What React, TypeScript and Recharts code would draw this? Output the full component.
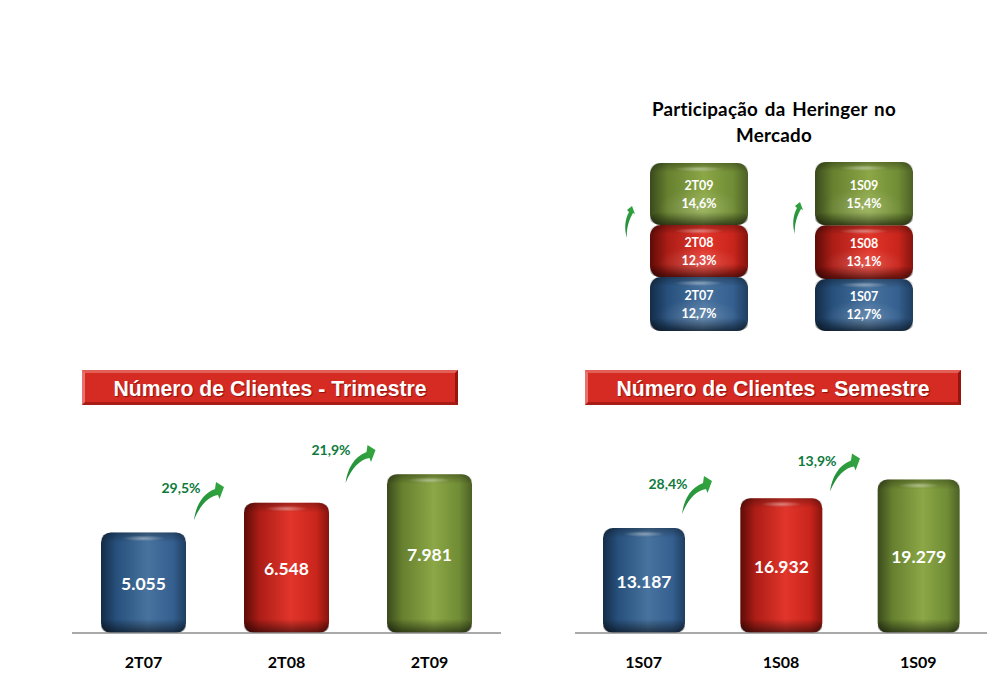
import { BarChart, Bar, XAxis, YAxis, LabelList } from 'recharts';

// Número de clientes
const quarterLabels = ['2T07', '2T08', '2T09'];
const quarterClients = [5055, 6548, 7981];
const quarterGrowth = ['29,5%', '21,9%'];

const semesterLabels = ['1S07', '1S08', '1S09'];
const semesterClients = [13187, 16932, 19279];
const semesterGrowth = ['28,4%', '13,9%'];

// Participação no mercado
const quarterShare = [12.7, 12.3, 14.6];
const semesterShare = [12.7, 13.1, 15.4];

const tones = ['blue', 'red', 'green'];
const calibriLike = 'Lato, "Noto Sans", sans-serif';
const arialLike = '"Liberation Sans", Arial, sans-serif';

const toRows = (labels: string[], values: number[]) =>
  labels.map((name, i) => ({ name, value: values[i] }));

const toStackRow = (values: number[]) => {
  const row: Record<string, number | string> = { name: 'share' };
  values.forEach((v, i) => {
    row['s' + i] = v;
  });
  return row;
};

const thousands = (v: any) => String(v).replace(/\B(?=(\d{3})+$)/g, '.');
const percent = (v: any) => String(v).replace('.', ',') + '%';

function Gradients() {
  const ramps: Record<string, string[]> = {
    blue: ['#142c47', '#27507c', '#48739f', '#345f8f', '#1f3e60'],
    red: ['#5e0b07', '#ab1d16', '#e2352b', '#c9251c', '#86140e'],
    green: ['#3a4a1c', '#66802f', '#8ba746', '#708c35', '#4c6026'],
  };
  return (
    <svg width={0} height={0} style={{ position: 'absolute' }}>
      <defs>
        {tones.map((t) => (
          <linearGradient key={t} id={'body-' + t} x1="0" x2="1" y1="0" y2="0">
            <stop offset="0" stopColor={ramps[t][0]} />
            <stop offset="0.18" stopColor={ramps[t][1]} />
            <stop offset="0.55" stopColor={ramps[t][2]} />
            <stop offset="0.85" stopColor={ramps[t][3]} />
            <stop offset="1" stopColor={ramps[t][4]} />
          </linearGradient>
        ))}
        <linearGradient id="cap-top" x1="0" x2="0" y1="0" y2="1">
          <stop offset="0" stopColor="#000" stopOpacity="0.28" />
          <stop offset="0.7" stopColor="#000" stopOpacity="0" />
        </linearGradient>
        <linearGradient id="cap-bottom" x1="0" x2="0" y1="0" y2="1">
          <stop offset="0" stopColor="#000" stopOpacity="0" />
          <stop offset="1" stopColor="#000" stopOpacity="0.55" />
        </linearGradient>
        <radialGradient id="glow">
          <stop offset="0" stopColor="#fff" stopOpacity="0.4" />
          <stop offset="1" stopColor="#fff" stopOpacity="0" />
        </radialGradient>
        <linearGradient id="arrow-fill" x1="0" x2="1" y1="1" y2="0">
          <stop offset="0" stopColor="#1f8a3a" />
          <stop offset="1" stopColor="#35a83f" />
        </linearGradient>
      </defs>
    </svg>
  );
}

function Cylinder(props: any) {
  const { x, y, width, height, tone, radius, cap, glow } = props;
  return (
    <g>
      <rect x={x} y={y} width={width} height={height} rx={radius} fill={`url(#body-${tone})`} />
      <rect x={x} y={y} width={width} height={cap} rx={radius} fill="url(#cap-top)" />
      <rect x={x} y={y + height - cap} width={width} height={cap} rx={radius} fill="url(#cap-bottom)" />
      <ellipse cx={x + width / 2} cy={y + 6} rx={width * 0.25} ry={3} fill="url(#glow)" />
      {glow && (
        <ellipse cx={x + width / 2} cy={y + height * 0.72} rx={width * 0.42} ry={height * 0.3} fill="url(#glow)" opacity={0.45} />
      )}
    </g>
  );
}

function ClientsChart({ rows, left, width, top, plotLeft, plotRight, max, barSize }: any) {
  return (
    <div style={{ position: 'absolute', left, top }}>
      <BarChart
        width={width}
        height={633 + 47 - top}
        data={rows}
        margin={{ top: 434 - top, right: plotRight, bottom: 0, left: plotLeft }}
        barCategoryGap={0}
      >
        <YAxis hide domain={[0, max]} />
        <XAxis
          dataKey="name"
          height={47}
          interval={0}
          axisLine={{ stroke: '#8c8c8c', strokeWidth: 1.5 }}
          tickLine={false}
          tick={{ fill: '#000', fontSize: 16, fontWeight: 700, fontFamily: calibriLike }}
          dy={16}
        />
        <Bar
          dataKey="value"
          barSize={barSize}
          isAnimationActive={false}
          shape={(p: any) => <Cylinder {...p} tone={tones[p.index]} radius={10} cap={14} />}
        >
          <LabelList
            dataKey="value"
            position="center"
            formatter={thousands}
            fill="#fff"
            dy={1}
            style={{ fontSize: 17.5, fontWeight: 700, fontFamily: calibriLike }}
          />
        </Bar>
      </BarChart>
    </div>
  );
}

function ShareChart({ values, labels, left, top, height }: any) {
  const total = values.reduce((a: number, b: number) => a + b, 0);
  return (
    <div style={{ position: 'absolute', left, top }}>
      <BarChart
        width={130}
        height={height}
        data={[toStackRow(values)]}
        margin={{ top: 0, right: 0, bottom: 0, left: 0 }}
      >
        <XAxis dataKey="name" hide />
        <YAxis hide domain={[0, total]} />
        {values.map((_: number, i: number) => (
          <Bar
            key={i}
            dataKey={'s' + i}
            stackId="share"
            barSize={98}
            isAnimationActive={false}
            shape={(p: any) => <Cylinder {...p} tone={tones[i]} radius={11} cap={13} glow />}
          >
            <LabelList
              dataKey={'s' + i}
              content={(p: any) => (
                <text
                  x={p.x + p.width / 2}
                  y={p.y + p.height / 2}
                  textAnchor="middle"
                  fill="#fff"
                  fontFamily={calibriLike}
                  fontWeight={700}
                  fontSize={12.5}
                >
                  <tspan x={p.x + p.width / 2} dy={-4}>{labels[i]}</tspan>
                  <tspan x={p.x + p.width / 2} dy={18}>{percent(p.value)}</tspan>
                </text>
              )}
            />
          </Bar>
        ))}
      </BarChart>
    </div>
  );
}

function Banner({ text, left }: { text: string; left: number }) {
  return (
    <div
      style={{
        position: 'absolute',
        left,
        top: 370,
        width: 376,
        height: 35,
        boxSizing: 'border-box',
        background: '#d52b23',
        borderStyle: 'solid',
        borderWidth: 3,
        borderColor: '#e25f58 #96150f #a91c15 #e8736d',
        color: '#fff',
        fontFamily: arialLike,
        fontWeight: 700,
        fontSize: 21.2,
        lineHeight: '32px',
        textAlign: 'center',
        textShadow: '1px 1px 1px rgba(90,0,0,0.6)',
      }}
    >
      {text}
    </div>
  );
}

function Overlays() {
  const bigArrow = 'M0,0 C2,-14 8,-26 21,-31 L22,-38 L30,-33 L25.5,-21 L24,-25 C15,-24 6,-15 0,0 Z';
  const smallArrow = 'M0,0 C-3,-9 -2,-19 2,-26 L0,-28 L5,-32 L8,-24 L6,-25 C2,-18 -1,-9 0,0 Z';
  const growth = [
    { label: quarterGrowth[0], x: 181, y: 493, ax: 194, ay: 520 },
    { label: quarterGrowth[1], x: 331, y: 455, ax: 345.5, ay: 483 },
    { label: semesterGrowth[0], x: 668, y: 489, ax: 682, ay: 514 },
    { label: semesterGrowth[1], x: 817, y: 466, ax: 830, ay: 491.5 },
  ];
  return (
    <svg width={1007} height={693} style={{ position: 'absolute', left: 0, top: 0 }}>
      {growth.map((g) => (
        <g key={g.label}>
          <path d={bigArrow} transform={`translate(${g.ax},${g.ay})`} fill="url(#arrow-fill)" />
          <text
            x={g.x}
            y={g.y}
            textAnchor="middle"
            fill="#0e7a3c"
            fontFamily={calibriLike}
            fontWeight={700}
            fontSize={14}
          >
            {g.label}
          </text>
        </g>
      ))}
      <path d={smallArrow} transform="translate(627,238)" fill="url(#arrow-fill)" />
      <path d={smallArrow} transform="translate(795,234)" fill="url(#arrow-fill)" />
    </svg>
  );
}

export default function App() {
  return (
    <div style={{ position: 'absolute', left: 0, top: 0, width: 1007, height: 693, background: '#fff', overflow: 'hidden' }}>
      <Gradients />
      <div
        style={{
          position: 'absolute',
          left: 624,
          top: 96,
          width: 300,
          textAlign: 'center',
          fontFamily: calibriLike,
          fontWeight: 700,
          fontSize: 18.8,
          letterSpacing: 0.25,
          wordSpacing: 2,
          lineHeight: '26px',
          color: '#000',
        }}
      >
        Participação da Heringer no
        <br />
        Mercado
      </div>

      <ShareChart values={quarterShare} labels={quarterLabels} left={633.5} top={163} height={168} />
      <ShareChart values={semesterShare} labels={semesterLabels} left={799} top={162} height={169} />

      <Banner text="Número de Clientes - Trimestre" left={82} />
      <Banner text="Número de Clientes - Semestre" left={585} />

      <ClientsChart
        rows={toRows(quarterLabels, quarterClients)}
        left={60}
        top={420}
        width={460}
        plotLeft={12}
        plotRight={19}
        max={10000}
        barSize={85}
      />
      <ClientsChart
        rows={toRows(semesterLabels, semesterClients)}
        left={560}
        top={420}
        width={440}
        plotLeft={15}
        plotRight={13}
        max={25000}
        barSize={82}
      />
      <Overlays />
    </div>
  );
}
